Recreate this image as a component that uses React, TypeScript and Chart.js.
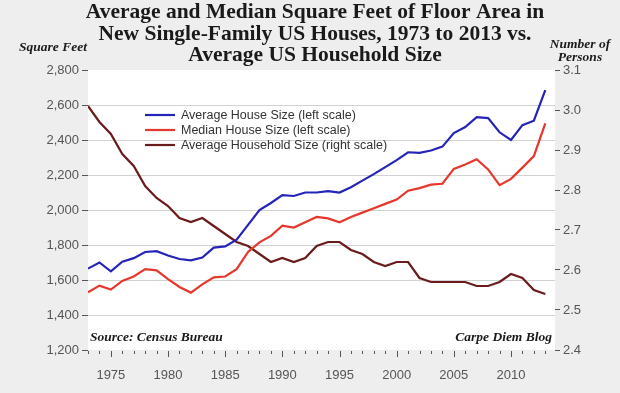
import React, { useEffect, useRef } from "react";
import { Chart, registerables } from "chart.js";

Chart.register(...registerables);

const YEARS = [
  1973, 1974, 1975, 1976, 1977, 1978, 1979, 1980, 1981, 1982, 1983, 1984, 1985, 1986,
  1987, 1988, 1989, 1990, 1991, 1992, 1993, 1994, 1995, 1996, 1997, 1998, 1999, 2000,
  2001, 2002, 2003, 2004, 2005, 2006, 2007, 2008, 2009, 2010, 2011, 2012, 2013,
];

const AVG_HOUSE = [
  1665, 1700, 1650, 1705, 1725, 1760, 1765, 1740, 1720, 1712, 1728, 1785, 1792, 1830,
  1915, 2000, 2040, 2085, 2080, 2100, 2100, 2108, 2100, 2130, 2168, 2205, 2245, 2285,
  2330, 2327, 2340, 2362, 2440, 2474, 2530, 2525, 2444, 2400, 2485, 2510, 2685,
];

const MEDIAN_HOUSE = [
  1530, 1568, 1545, 1595, 1620, 1662, 1655, 1605, 1560, 1528, 1575, 1615, 1620, 1662,
  1760, 1815, 1852, 1910, 1900, 1930, 1960, 1952, 1930, 1960, 1985, 2010, 2035, 2060,
  2110, 2125, 2145, 2150, 2235, 2260, 2290, 2232, 2142, 2178, 2242, 2308, 2495,
];

const HOUSEHOLD = [
  3.01, 2.97, 2.94, 2.89, 2.86, 2.81, 2.78, 2.76, 2.73, 2.72, 2.73, 2.71, 2.69, 2.67,
  2.66, 2.64, 2.62, 2.63, 2.62, 2.63, 2.66, 2.67, 2.67, 2.65, 2.64, 2.62, 2.61, 2.62,
  2.62, 2.58, 2.57, 2.57, 2.57, 2.57, 2.56, 2.56, 2.57, 2.59, 2.58, 2.55, 2.54,
];

const X_TICKS = [1975, 1980, 1985, 1990, 1995, 2000, 2005, 2010];
const LEFT_TICKS = [1200, 1400, 1600, 1800, 2000, 2200, 2400, 2600, 2800];
const RIGHT_TICKS = [2.4, 2.5, 2.6, 2.7, 2.8, 2.9, 3.0, 3.1];

const TITLE_LINES = [
  "Average and Median Square Feet of Floor Area in",
  "New Single-Family US Houses, 1973 to 2013 vs.",
  "Average US Household Size",
];
const SERIES_LABELS = [
  "Average House Size (left scale)",
  "Median House Size (left scale)",
  "Average Household Size (right scale)",
];
const SERIES_COLORS = ["#2424b8", "#e6372c", "#6a1b1b"];

const W = 620;
const H = 393;

const decorPlugin = {
  id: "decor",
  beforeDraw(chart: any) {
    const { ctx, chartArea: a } = chart;
    ctx.save();
    ctx.fillStyle = "#eeeeee";
    ctx.fillRect(0, 0, chart.width, chart.height);
    ctx.fillStyle = "#ffffff";
    ctx.fillRect(a.left, a.top, a.right - a.left, a.bottom - a.top);
    ctx.restore();
  },
  afterDraw(chart: any) {
    const { ctx, chartArea: a } = chart;
    const xs = chart.scales.x;
    ctx.save();
    // x tick marks
    ctx.strokeStyle = "#555";
    ctx.lineWidth = 1;
    for (let y = YEARS[0]; y <= YEARS[YEARS.length - 1]; y++) {
      const px = Math.round(xs.getPixelForValue(y)) + 0.5;
      const len = y % 5 === 0 ? 6 : 3;
      ctx.beginPath();
      ctx.moveTo(px, a.bottom + 1);
      ctx.lineTo(px, a.bottom + 1 + len);
      ctx.stroke();
    }
    // title
    ctx.fillStyle = "#1a1a1a";
    ctx.textAlign = "center";
    ctx.textBaseline = "middle";
    ctx.font = "bold 21.5px 'Liberation Serif'";
    const tys = [12, 34, 55];
    TITLE_LINES.forEach((t, i) => ctx.fillText(t, 315, tys[i]));
    // axis titles
    ctx.font = "italic bold 13.5px 'Liberation Serif'";
    ctx.fillText("Square Feet", 53, 48);
    ctx.fillText("Number of", 580, 45);
    ctx.fillText("Persons", 580, 58);
    // source
    ctx.textAlign = "left";
    ctx.fillText("Source: Census Bureau", 90, 338);
    ctx.textAlign = "right";
    ctx.fillText("Carpe Diem Blog", 552, 338);
    // legend
    ctx.textAlign = "left";
    ctx.font = "12.5px 'Liberation Sans'";
    const ly = [115, 130, 145];
    chart.data.datasets.forEach((ds: any, i: number) => {
      ctx.strokeStyle = ds.borderColor;
      ctx.lineWidth = 2.2;
      ctx.beginPath();
      ctx.moveTo(145, ly[i]);
      ctx.lineTo(175, ly[i]);
      ctx.stroke();
      ctx.fillStyle = "#333";
      ctx.fillText(ds.label, 181, ly[i] + 1);
    });
    ctx.restore();
  },
};

export default function App() {
  const ref = useRef<HTMLCanvasElement>(null);
  useEffect(() => {
    if (!ref.current) return;
    const mk = (arr: number[]) => YEARS.map((y, i) => ({ x: y, y: arr[i] }));
    const chart = new Chart(ref.current, {
      type: "line",
      data: {
        datasets: [
          { label: SERIES_LABELS[0], data: mk(AVG_HOUSE), borderColor: SERIES_COLORS[0], yAxisID: "y", borderWidth: 2.2, pointRadius: 0, tension: 0 },
          { label: SERIES_LABELS[1], data: mk(MEDIAN_HOUSE), borderColor: SERIES_COLORS[1], yAxisID: "y", borderWidth: 2.2, pointRadius: 0, tension: 0 },
          { label: SERIES_LABELS[2], data: mk(HOUSEHOLD), borderColor: SERIES_COLORS[2], yAxisID: "y1", borderWidth: 2.2, pointRadius: 0, tension: 0 },
        ],
      },
      options: {
        animation: false,
        responsive: true,
        maintainAspectRatio: false,
        layout: { padding: { top: 70, left: 0, right: 0, bottom: 0 } },
        plugins: { legend: { display: false }, title: { display: false }, tooltip: { enabled: false } },
        scales: {
          x: {
            type: "linear",
            min: 1973,
            max: 2013.85,
            border: { display: false },
            grid: { display: false },
            afterBuildTicks: (s: any) => { s.ticks = X_TICKS.map((v) => ({ value: v })); },
            ticks: { autoSkip: false, maxRotation: 0, padding: 10, color: "#555", font: { family: "'Liberation Sans'", size: 13 }, callback: (v: any) => String(v) },
            afterFit: (s: any) => { s.height = H - 350; },
          },
          y: {
            type: "linear",
            position: "left",
            min: 1200,
            max: 2800,
            border: { display: false },
            afterBuildTicks: (s: any) => { s.ticks = LEFT_TICKS.map((v) => ({ value: v })); },
            grid: {
              drawOnChartArea: true,
              tickLength: 6,
              tickColor: "#555",
              color: (c: any) => (c.tick && (c.tick.value === 1200 || c.tick.value === 2800) ? "rgba(0,0,0,0)" : "#d2d2d2"),
            },
            ticks: { color: "#555", padding: 3, font: { family: "'Liberation Sans'", size: 13 }, callback: (v: any) => Number(v).toLocaleString("en-US") },
            afterFit: (s: any) => { s.width = 88; },
          },
          y1: {
            type: "linear",
            position: "right",
            min: 2.4,
            max: 3.1,
            border: { display: false },
            afterBuildTicks: (s: any) => { s.ticks = RIGHT_TICKS.map((v) => ({ value: v })); },
            grid: { drawOnChartArea: false, tickLength: 5, tickColor: "#555" },
            ticks: { color: "#555", padding: 3, font: { family: "'Liberation Sans'", size: 13 }, callback: (v: any) => Number(v).toFixed(1) },
            afterFit: (s: any) => { s.width = W - 555; },
          },
        },
      },
      plugins: [decorPlugin],
    } as any);
    return () => chart.destroy();
  }, []);
  return (
    <div style={{ position: "absolute", left: 0, top: 0, width: W, height: H }}>
      <canvas ref={ref} />
    </div>
  );
}
